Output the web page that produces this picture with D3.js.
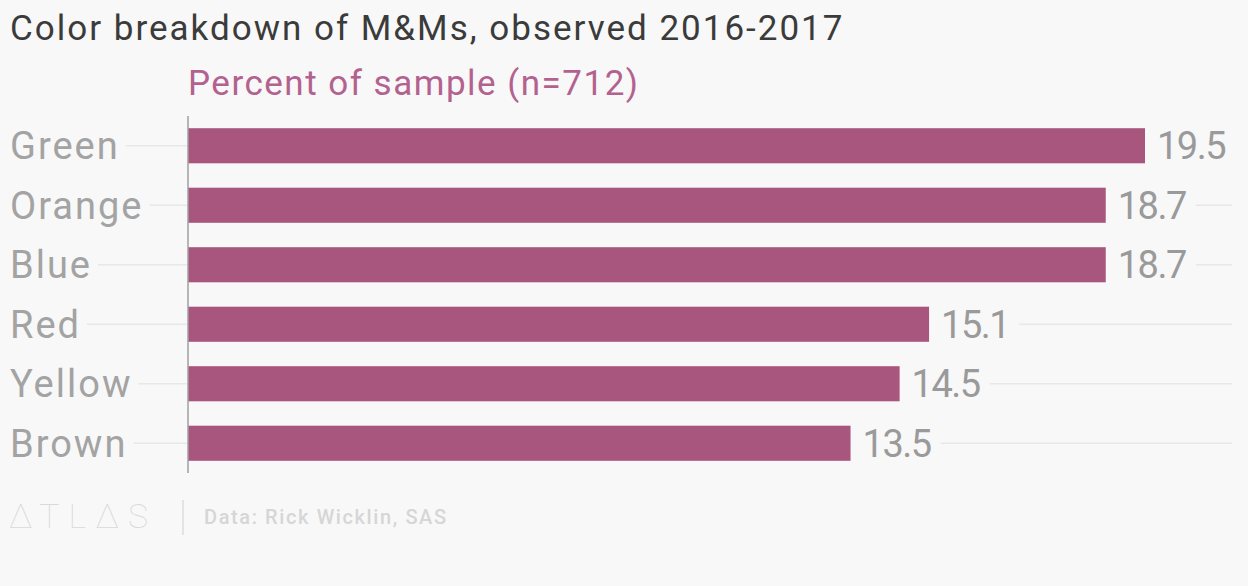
<!DOCTYPE html>
<html>
<head>
<meta charset="utf-8">
<script src="https://cdn.jsdelivr.net/npm/d3@7.9.0/dist/d3.min.js"></script>
<style>
  body { margin: 0; background: #f8f8f8; }
  svg { display: block; font-family: Roboto, "Noto Sans", sans-serif; }
</style>
</head>
<body>
<div id="chart"></div>
<script>
const categories = ['Green', 'Orange', 'Blue', 'Red', 'Yellow', 'Brown'];
const percents = [19.5, 18.7, 18.7, 15.1, 14.5, 13.5];
const title = 'Color breakdown of M&Ms, observed 2016-2017';
const subtitle = 'Percent of sample (n=712)';
const source = 'Data: Rick Wicklin, SAS';

const data = categories.map((c, i) => ({ name: c, value: percents[i] }));

const width = 1248;
const height = 586;
const svg = d3.select('#chart')
  .append('svg')
  .attr('width', width)
  .attr('height', height);

svg.append('rect').attr('width', width).attr('height', height).attr('fill', '#f8f8f8');

const xScale = d3.scaleLinear().domain([0, 19.5]).range([188, 1145]);
const yScale = d3.scaleBand()
  .domain(categories)
  .range([116, 473])
  .paddingInner(0.41)
  .paddingOuter(0.205);

// title + subtitle
svg.append('text')
  .attr('x', 10).attr('y', 40)
  .attr('fill', '#3b3b3b')
  .style('font-size', '35px')
  .style('letter-spacing', '2px')
  .text(title);

svg.append('text')
  .attr('x', 188).attr('y', 95)
  .attr('fill', '#b3628f')
  .style('font-size', '35px')
  .style('letter-spacing', '1.5px')
  .text(subtitle);

const rows = svg.append('g').attr('class', 'rows')
  .selectAll('g')
  .data(data)
  .join('g')
  .attr('transform', d => `translate(0, ${yScale(d.name) + yScale.bandwidth() / 2})`);

// category labels
const catLabels = rows.append('text')
  .attr('x', 10)
  .attr('dy', '0.35em')
  .attr('fill', '#a3a3a3')
  .style('font-size', '38px')
  .style('letter-spacing', '2px')
  .text(d => d.name);

// value labels
const valLabels = rows.append('text')
  .attr('x', d => xScale(d.value) + 12)
  .attr('dy', '0.35em')
  .attr('fill', '#9a9a9a')
  .style('font-size', '38px')
  .style('letter-spacing', '-1.5px')
  .text(d => d3.format('.1f')(d.value));

// gridlines, left and right of the bar
rows.each(function(d, i) {
  const g = d3.select(this);
  const leftEnd = 10 + catLabels.nodes()[i].getComputedTextLength() + 6;
  const rightStart = xScale(d.value) + 12 + valLabels.nodes()[i].getComputedTextLength() + 10;
  g.insert('line', 'text')
    .attr('x1', leftEnd).attr('x2', xScale(0))
    .attr('stroke', '#e8e8e8').attr('stroke-width', 1.5);
  if (rightStart < 1232) {
    g.insert('line', 'text')
      .attr('x1', rightStart).attr('x2', 1232)
      .attr('stroke', '#e8e8e8').attr('stroke-width', 1.5);
  }
});

// bars
rows.append('rect')
  .attr('x', xScale(0))
  .attr('y', -yScale.bandwidth() / 2)
  .attr('width', d => xScale(d.value) - xScale(0))
  .attr('height', yScale.bandwidth())
  .attr('fill', '#a9567f');

// axis line
svg.append('line')
  .attr('x1', xScale(0)).attr('x2', xScale(0))
  .attr('y1', 116).attr('y2', 473)
  .attr('stroke', '#a0a0a0').attr('stroke-width', 1.5);

// footer
svg.append('text')
  .attr('x', 9).attr('y', 528)
  .attr('fill', '#dadada')
  .style('font-size', '34px')
  .style('font-weight', 100)
  .style('letter-spacing', '9px')
  .text('\u2206TL\u2206S');

svg.append('line')
  .attr('x1', 183).attr('x2', 183)
  .attr('y1', 500).attr('y2', 535)
  .attr('stroke', '#dcdcdc').attr('stroke-width', 1.5);

svg.append('text')
  .attr('x', 204).attr('y', 524)
  .attr('fill', '#d6d6d6')
  .style('font-size', '20px')
  .style('font-weight', 500)
  .style('letter-spacing', '1.6px')
  .text(source);
</script>
</body>
</html>
